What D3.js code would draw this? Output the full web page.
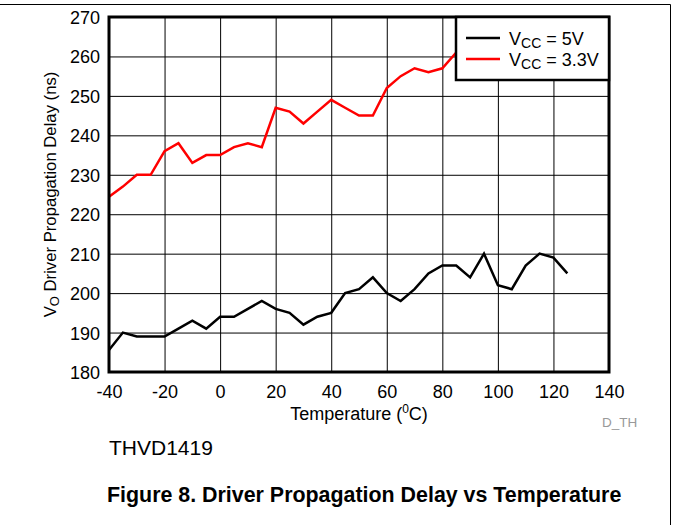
<!DOCTYPE html>
<html>
<head>
<meta charset="utf-8">
<script src="https://cdn.jsdelivr.net/npm/d3@7"></script>
<style>
  body { margin: 0; background: #fff; }
  svg { display: block; font-family: "Liberation Sans", Arial, sans-serif; }
</style>
</head>
<body>
<script>
// Temperature (°C), every 5 degrees
const temps5V = [-40, -35, -30, -25, -20, -15, -10, -5, 0, 5, 10, 15, 20, 25, 30, 35, 40, 45, 50, 55, 60, 65, 70, 75, 80, 85, 90, 95, 100, 105, 110, 115, 120, 125];
const delay5V = [185.6, 190, 189, 189, 189, 191, 193, 191, 194, 194, 196, 198, 196, 195, 192, 194, 195, 200, 201, 204, 200, 198, 201, 205, 207, 207, 204, 210, 202, 201, 207, 210, 209, 205];

const temps33V = [-40, -35, -30, -25, -20, -15, -10, -5, 0, 5, 10, 15, 20, 25, 30, 35, 40, 45, 50, 55, 60, 65, 70, 75, 80, 85];
const delay33V = [224.4, 227, 230, 230, 236, 238, 233, 235, 235, 237, 238, 237, 247, 246, 243, 246, 249, 247, 245, 245, 252, 255, 257, 256, 257, 261];

const xTicks = [-40, -20, 0, 20, 40, 60, 80, 100, 120, 140];
const yTicks = [180, 190, 200, 210, 220, 230, 240, 250, 260, 270];

const margin = {top: 17, right: 64, bottom: 153, left: 109};
const W = 673, H = 525;
const width = W - margin.left - margin.right;
const height = H - margin.top - margin.bottom;

const svg = d3.select("body").append("svg")
    .attr("width", W)
    .attr("height", H);

// outer page frame (top + right edges)
svg.append("line").attr("x1", 0).attr("x2", 670.5).attr("y1", 4.5).attr("y2", 4.5)
    .attr("stroke", "#000").attr("stroke-width", 1);
svg.append("line").attr("x1", 670.5).attr("x2", 670.5).attr("y1", 4.5).attr("y2", H)
    .attr("stroke", "#000").attr("stroke-width", 1);

const g = svg.append("g")
    .attr("transform", "translate(" + margin.left + "," + margin.top + ")");

const xScale = d3.scaleLinear().domain([-40, 140]).range([0, width]);
const yScale = d3.scaleLinear().domain([180, 270]).range([height, 0]);

// grid + tick labels (plain hyphen for negatives)
const xAxis = g.append("g")
    .attr("transform", "translate(0," + height + ")")
    .call(d3.axisBottom(xScale).tickValues(xTicks).tickSize(-height).tickPadding(13).tickFormat(d => String(d)));
const yAxis = g.append("g")
    .call(d3.axisLeft(yScale).tickValues(yTicks).tickSize(-width).tickPadding(9).tickFormat(d => String(d)));

[xAxis, yAxis].forEach(a => {
    a.select(".domain").remove();
    a.selectAll(".tick line").attr("stroke", "#000").attr("stroke-width", 1);
    a.selectAll(".tick text")
        .attr("fill", "#000")
        .style("font-family", "'Liberation Sans', Arial, sans-serif")
        .style("font-size", "18px");
});
yAxis.selectAll(".tick text").attr("dy", "0.36em");

// series
const line = d3.line()
    .x(d => xScale(d[0]))
    .y(d => yScale(d[1]));

g.append("path")
    .datum(temps33V.map((t, i) => [t, delay33V[i]]))
    .attr("fill", "none")
    .attr("stroke", "#ff0000")
    .attr("stroke-width", 2.5)
    .attr("d", line);

g.append("path")
    .datum(temps5V.map((t, i) => [t, delay5V[i]]))
    .attr("fill", "none")
    .attr("stroke", "#000")
    .attr("stroke-width", 2.5)
    .attr("d", line);

// plot border
g.append("rect")
    .attr("x", 0).attr("y", 0)
    .attr("width", width).attr("height", height)
    .attr("fill", "none")
    .attr("stroke", "#000")
    .attr("stroke-width", 3);

// legend
const legend = g.append("g").attr("transform", "translate(" + (width - 153) + ",0)");
legend.append("rect")
    .attr("x", 0).attr("y", 0)
    .attr("width", 153).attr("height", 63)
    .attr("fill", "#fff")
    .attr("stroke", "#000")
    .attr("stroke-width", 2.5);

const legendItems = [
    {label: "5V", color: "#000"},
    {label: "3.3V", color: "#ff0000"}
];
legendItems.forEach((d, i) => {
    const y = 21 + i * 21;
    legend.append("line")
        .attr("x1", 10).attr("x2", 44)
        .attr("y1", y).attr("y2", y)
        .attr("stroke", d.color)
        .attr("stroke-width", 2.5);
    const t = legend.append("text")
        .attr("x", 53).attr("y", y + 7)
        .style("font-size", "18px");
    t.append("tspan").text("V");
    t.append("tspan").attr("dy", 3).style("font-size", "14px").text("CC");
    t.append("tspan").attr("dy", -3).text(" = " + d.label);
});

// axis titles
const xt = g.append("text")
    .attr("x", width / 2)
    .attr("y", height + 48)
    .attr("text-anchor", "middle")
    .style("font-size", "18px");
xt.append("tspan").text("Temperature (");
xt.append("tspan").attr("dy", -7).style("font-size", "12px").text("0");
xt.append("tspan").attr("dy", 7).text("C)");

const yt = g.append("text")
    .attr("transform", "rotate(-90)")
    .attr("x", -height / 2)
    .attr("y", -margin.left + 56)
    .attr("text-anchor", "middle")
    .style("font-size", "16.7px");
yt.append("tspan").text("V");
yt.append("tspan").attr("dy", 3).style("font-size", "13px").text("O");
yt.append("tspan").attr("dy", -3).text(" Driver Propagation Delay (ns)");

// notes
svg.append("text")
    .attr("x", 602).attr("y", 427)
    .attr("fill", "#999")
    .style("font-size", "13.5px")
    .text("D_TH");

svg.append("text")
    .attr("x", 109).attr("y", 455)
    .style("font-size", "21px")
    .text("THVD1419");

svg.append("text")
    .attr("x", 107).attr("y", 502)
    .style("font-size", "21.4px")
    .style("font-weight", "bold")
    .text("Figure 8. Driver Propagation Delay vs Temperature");
</script>
</body>
</html>
